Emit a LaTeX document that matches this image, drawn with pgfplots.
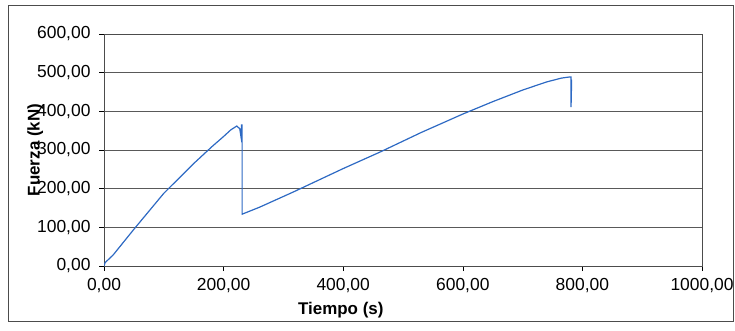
\documentclass[border=0pt]{standalone}
\usepackage{fontspec}
\setmainfont{Liberation Sans}
\usepackage{pgfplots}
\pgfplotsset{compat=1.18}
\definecolor{curve}{RGB}{45,105,195}
\begin{document}
\begin{tikzpicture}[x=1bp,y=1bp]
\useasboundingbox (0,0) rectangle (735,330);
\draw[gray!60!black, line width=0.8bp] (8,9) rectangle (733,325);
\begin{axis}[
  at={(104bp,64bp)}, anchor=south west,
  scale only axis, width=598bp, height=232bp,
  xmin=0, xmax=1000, ymin=0, ymax=600,
  xtick={0,200,...,1000}, ytick={0,100,...,600},
  ymajorgrids, grid style={gray!70!black, line width=0.6bp},
  axis line style={gray!60!black, line width=0.8bp},
  tick align=outside, tick pos=left, major tick length=5bp,
  tick style={black, line width=0.6bp},
  /pgf/number format/.cd, fixed, fixed zerofill, precision=2, use comma, 1000 sep={}, assume math mode=true,
  /pgfplots/.cd,
  tick label style={font=\fontsize{17.5}{20}\selectfont},
  yticklabel style={xshift=-5bp},
  xticklabel style={yshift=-4bp},
  xlabel={\textbf{Tiempo (s)}}, ylabel={\textbf{Fuerza (kN)}},
  label style={font=\fontsize{17}{20}\selectfont},
  xlabel style={at={(axis description cs:0.396,0)}, anchor=center, yshift=-44bp},
  ylabel style={at={(axis description cs:-0.115,0.5)}, anchor=center},
]
\addplot[curve, line width=1.2bp] coordinates {
(0,0) (2,9) (15,28) (50,95) (100,188) (150,265) (180,308) (200,335) (212,352) (222,362)
(227,355) (229,335) (230,365) (231,365) (231,134)
(260,152) (316,191) (400,252) (462,295) (530,345) (600,393) (650,425) (700,455)
(740,476) (765,486) (779,489) (781,489) (781,411) (782,482)
};
\end{axis}
\end{tikzpicture}
\end{document}
